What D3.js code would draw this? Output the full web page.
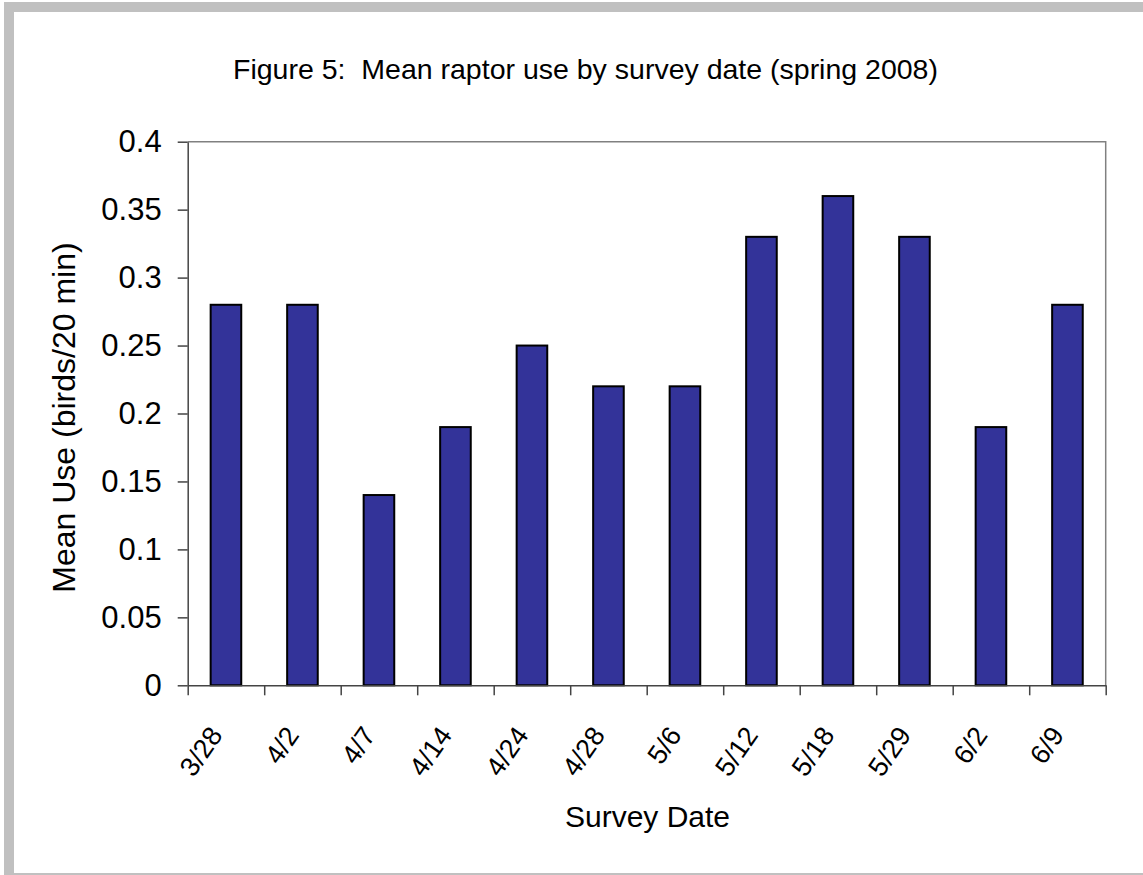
<!DOCTYPE html>
<html>
<head>
<meta charset="utf-8">
<script src="https://cdn.jsdelivr.net/npm/d3@7"></script>
<style>
  html, body { margin: 0; padding: 0; background: #fff; }
  svg { display: block; }
  text { font-family: "Liberation Sans", Arial, sans-serif; fill: #000; white-space: pre; }
</style>
</head>
<body>
<svg id="chart" width="1143" height="875"></svg>
<script>
// Survey dates and mean raptor use (birds per 20-minute survey)
const surveyDates = ["3/28", "4/2", "4/7", "4/14", "4/24", "4/28", "5/6", "5/12", "5/18", "5/29", "6/2", "6/9"];
const meanUse = [0.28, 0.28, 0.14, 0.19, 0.25, 0.22, 0.22, 0.33, 0.36, 0.33, 0.19, 0.28];
const yTickValues = [0, 0.05, 0.1, 0.15, 0.2, 0.25, 0.3, 0.35, 0.4];
const yTickLabels = ["0", "0.05", "0.1", "0.15", "0.2", "0.25", "0.3", "0.35", "0.4"];
const titleText = "Figure 5:  Mean raptor use by survey date (spring 2008)";
const xTitle = "Survey Date";
const yTitle = "Mean Use (birds/20 min)";

const svg = d3.select("#chart");
const W = 1143, H = 875;

// Outer frame: grey bands on the top and left, thin line at the bottom
svg.append("rect").attr("x", 0).attr("y", 0).attr("width", W).attr("height", H).attr("fill", "#fff");
svg.append("rect").attr("x", 4).attr("y", 2).attr("width", W - 4).attr("height", 10).attr("fill", "#c0c0c0");
svg.append("rect").attr("x", 4).attr("y", 2).attr("width", 10).attr("height", H - 2).attr("fill", "#c0c0c0");
svg.append("rect").attr("x", 4).attr("y", H - 2).attr("width", W - 4).attr("height", 2).attr("fill", "#c0c0c0");

// Plot area
const plot = { left: 187.7, right: 1105.7, top: 141.7, bottom: 685.3 };

const x = d3.scaleBand()
  .domain(surveyDates)
  .range([plot.left, plot.right])
  .paddingInner(0.6)
  .paddingOuter(0.3);

const xBounds = d3.scaleLinear()
  .domain([0, surveyDates.length])
  .range([plot.left, plot.right]);

const y = d3.scaleLinear()
  .domain([0, 0.4])
  .range([plot.bottom, plot.top]);

// Plot border (top and right)
svg.append("path")
  .attr("d", `M${plot.left},${plot.top}H${plot.right}V${plot.bottom}`)
  .attr("fill", "none")
  .attr("stroke", "#808080")
  .attr("stroke-width", 1.5);

// Bars
svg.append("g").selectAll("rect")
  .data(surveyDates)
  .join("rect")
  .attr("x", d => x(d))
  .attr("width", x.bandwidth())
  .attr("y", (d, i) => y(meanUse[i]))
  .attr("height", (d, i) => y(0) - y(meanUse[i]))
  .attr("fill", "#333399")
  .attr("stroke", "#000")
  .attr("stroke-width", 2);

// Y axis
const yAxis = d3.axisLeft(y)
  .tickValues(yTickValues)
  .tickFormat((d, i) => yTickLabels[i])
  .tickSize(10)
  .tickPadding(16)
  .tickSizeOuter(0);

const gy = svg.append("g")
  .attr("transform", `translate(${plot.left},0)`)
  .call(yAxis);
gy.select(".domain").attr("stroke", "#444").attr("stroke-width", 1.5);
gy.selectAll(".tick line").attr("stroke", "#444").attr("stroke-width", 1.5);
gy.selectAll(".tick text")
  .attr("font-size", 31)
  .attr("font-family", "Liberation Sans, Arial, sans-serif")
  .attr("fill", "#000");

// X axis: ticks sit on the category boundaries
const xAxis = d3.axisBottom(xBounds)
  .tickValues(d3.range(surveyDates.length + 1))
  .tickFormat("")
  .tickSize(10)
  .tickSizeOuter(0);

const gx = svg.append("g")
  .attr("transform", `translate(0,${plot.bottom})`)
  .call(xAxis);
gx.select(".domain").attr("stroke", "#444").attr("stroke-width", 1.5);
gx.selectAll(".tick line").attr("stroke", "#444").attr("stroke-width", 1.5);

// Rotated category labels
svg.append("g").selectAll("text")
  .data(surveyDates)
  .join("text")
  .attr("transform", d => `translate(${x(d) + x.bandwidth() / 2 - 10},${plot.bottom + 44.5}) rotate(-55)`)
  .attr("text-anchor", "end")
  .attr("dy", "0.35em")
  .attr("font-size", 27)
  .text(d => d);

// Titles
svg.append("text")
  .attr("x", 585.5)
  .attr("y", 79)
  .attr("text-anchor", "middle")
  .attr("font-size", 28.5)
  .text(titleText);

svg.append("text")
  .attr("x", 647.5)
  .attr("y", 827)
  .attr("text-anchor", "middle")
  .attr("font-size", 30)
  .text(xTitle);

svg.append("text")
  .attr("transform", "translate(75,417.5) rotate(-90)")
  .attr("text-anchor", "middle")
  .attr("font-size", 32)
  .text(yTitle);
</script>
</body>
</html>
